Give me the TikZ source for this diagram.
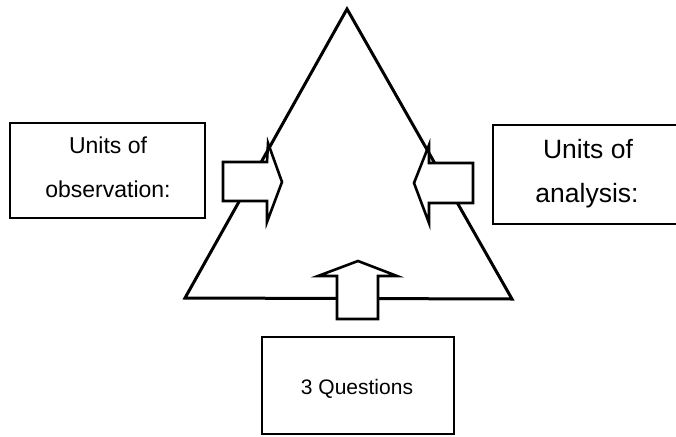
\documentclass[tikz,border=0pt]{standalone}
\usepackage{fontspec}
\setmainfont{Liberation Sans}
\begin{document}
\begin{tikzpicture}[x=1pt,y=-1pt,
  frame/.style={draw=black,line width=2pt,fill=white},
  tri/.style={draw=black,line width=3pt,line join=miter},
  blockarrow/.style={draw=black,line width=2.6pt,fill=white,line join=miter},
  lbl/.style={anchor=base,inner sep=0pt}]
\useasboundingbox (0,0) rectangle (676,436);
\clip (0,0) rectangle (676,436);

% boxes
\draw[frame] (10,123) rectangle (205,218);
\draw[frame] (493,125) rectangle (700,224);
\draw[frame] (262,337) rectangle (454,434);

% triangle
\coordinate (apex) at (347,9);
\coordinate (bl) at (185,298);
\coordinate (br) at (512,299);
\draw[tri] (apex) -- (bl) -- (br) -- cycle;

% block arrows pointing into the triangle
\draw[blockarrow] (223,162) -- (267,162) -- (268,143) -- (282,182) -- (267,222) -- (267,201) -- (223,201) -- cycle;
\draw[blockarrow] (473,163) -- (429,163) -- (429,145) -- (414,183) -- (429,223) -- (429,203) -- (473,203) -- cycle;
\draw[blockarrow] (337,319) -- (337,276) -- (318,276) -- (358,261) -- (397,276) -- (378,276) -- (378,319) -- cycle;

% labels
\node[lbl,font=\fontsize{23}{23}\selectfont] (obs1) at (108,153) {Units of};
\node[lbl,font=\fontsize{23}{23}\selectfont] (obs2) at (108,197) {observation:};
\node[lbl,font=\fontsize{26.5}{26.5}\selectfont] (ana1) at (588,158) {Units of};
\node[lbl,font=\fontsize{26.5}{26.5}\selectfont] (ana2) at (587,202) {analysis:};
\node[lbl,font=\fontsize{21}{21}\selectfont] (q) at (357,394) {3 Questions};
\end{tikzpicture}
\end{document}
